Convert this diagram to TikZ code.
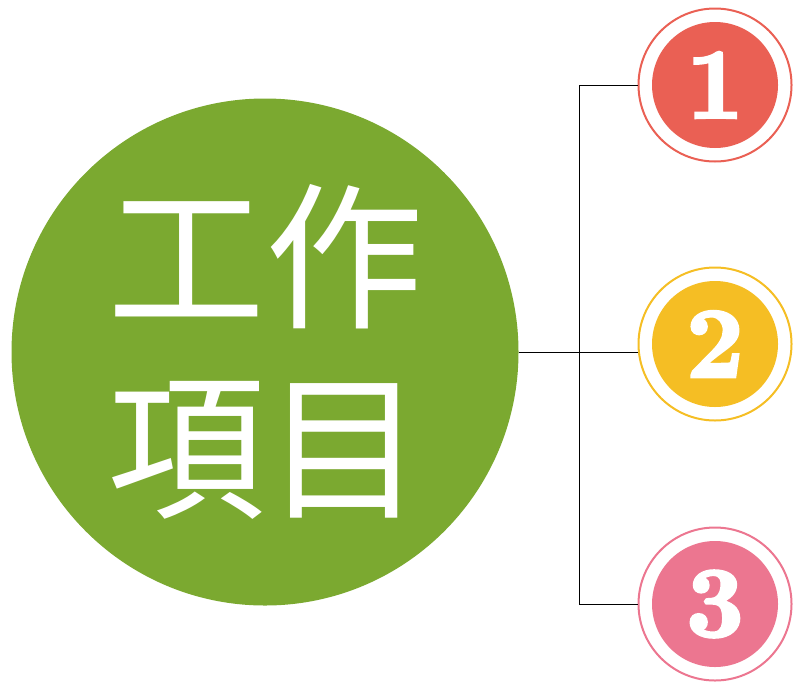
\documentclass[tikz,border=0pt]{standalone}
\usepackage{fontspec}
\newfontfamily\cjk{Noto Sans CJK TC}
\newfontfamily\cifras{lmroman10-bold.otf}[FakeBold=3]
\usetikzlibrary{positioning}

\definecolor{verde}{RGB}{123,169,48}
\definecolor{rojo}{RGB}{234,96,84}
\definecolor{amarillo}{RGB}{245,190,36}
\definecolor{rosa}{RGB}{236,118,144}

\tikzset{
  anillo/.style={circle,draw=#1,line width=2pt,minimum size=153pt,inner sep=0pt},
  disco/.style={circle,fill=#1,text=white,minimum size=126pt,inner sep=0pt,
    font=\cifras\fontsize{100}{100}\selectfont},
  rama/.style={black,line width=1pt}
}

\begin{document}
\begin{tikzpicture}[x=1pt,y=-1pt]
  \useasboundingbox (0,0) rectangle (794,683);

  % Circulo principal
  \node[circle,fill=verde,text=white,minimum size=507pt,inner sep=0pt,align=center,
    font=\cjk\fontsize{158}{190}\selectfont] (principal) at (265,352) {工作\\項目};

  % Numeros
  \node[anillo=rojo]     (anillo1) at (715,85)  {};
  \node[anillo=amarillo] (anillo2) at (715,344) {};
  \node[anillo=rosa]     (anillo3) at (715,604) {};
  \node[disco=rojo]     (num1) at (anillo1) {1};
  \node[disco=amarillo] (num2) at (anillo2) {2};
  \node[disco=rosa]     (num3) at (anillo3) {3};

  % Lineas
  \coordinate (cruce) at (579,352);
  \draw[rama] (principal.east) -- (principal.east -| cruce);
  \draw[rama] (anillo1.west) -| (cruce) |- (anillo3.west);
  \draw[rama] (cruce) -- (anillo2.west |- cruce);
\end{tikzpicture}
\end{document}
